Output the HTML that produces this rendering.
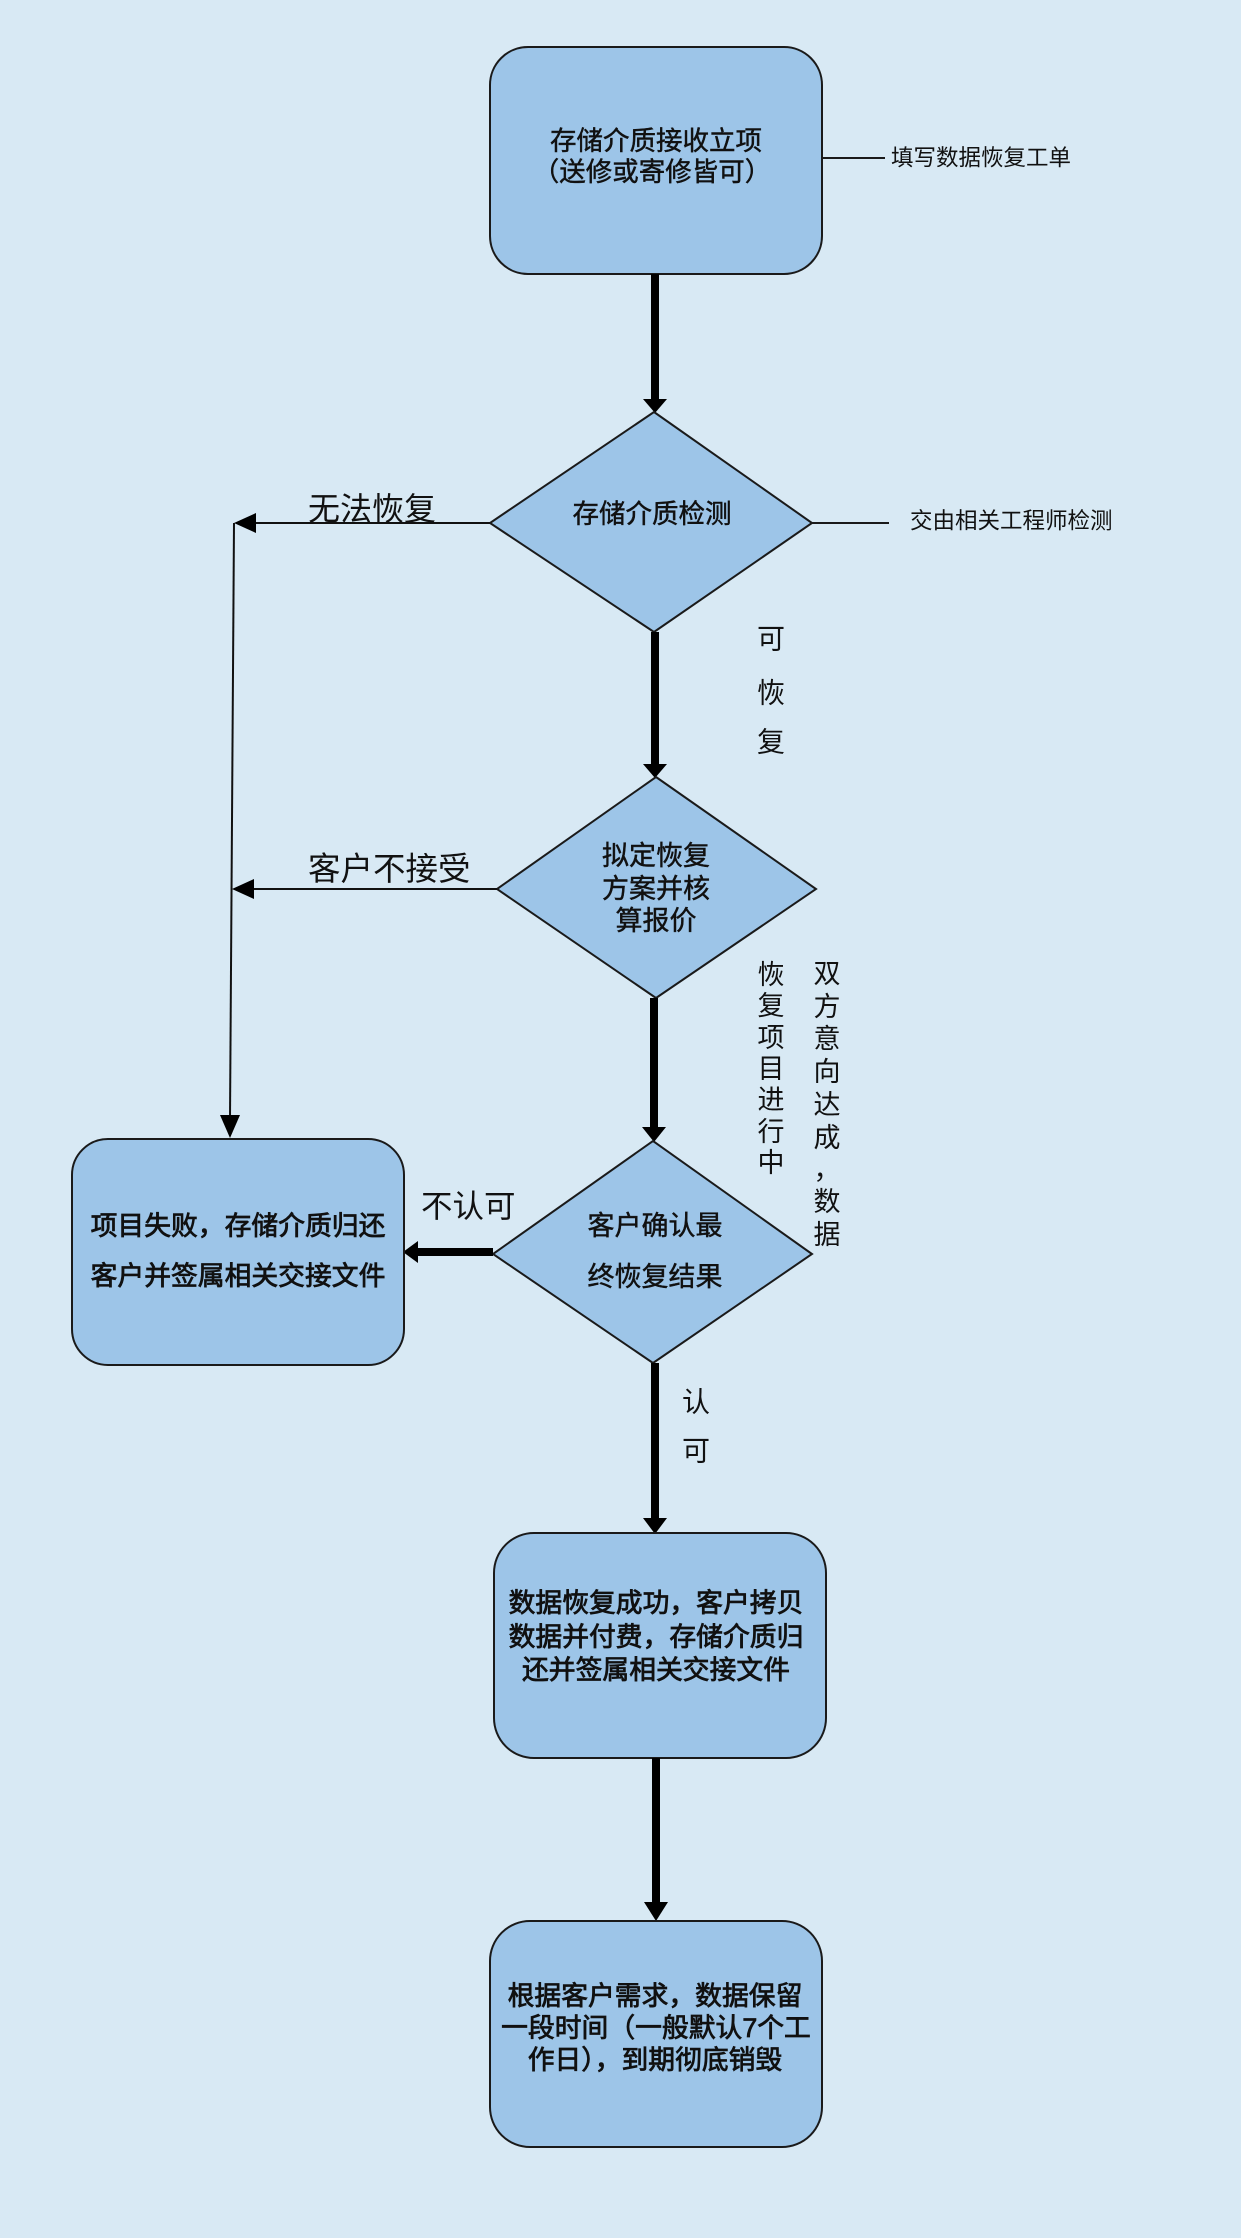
<!DOCTYPE html>
<html>
<head>
<meta charset="utf-8">
<style>
  html, body { margin:0; padding:0; background:#d8e9f4; }
  svg { display:block; }
  .n { font-family: "Liberation Sans", "Noto Sans CJK SC", "WenQuanYi Zen Hei", sans-serif; fill:#111; stroke:#111; stroke-width:0.45px; }
  .b { font-family: "Liberation Sans", "Noto Sans CJK SC", "WenQuanYi Zen Hei", sans-serif; fill:#111; stroke:#111; stroke-width:0.8px; }
  .l { font-family: "Liberation Sans", "Noto Sans CJK SC", sans-serif; fill:#111; }
</style>
</head>
<body>
<svg width="1241" height="2238" viewBox="0 0 1241 2238" xmlns="http://www.w3.org/2000/svg">
  <rect x="0" y="0" width="1241" height="2238" fill="#d8e9f4"/>

  <!-- Box 1 -->
  <rect x="490" y="47" width="332" height="227" rx="38" ry="38" fill="#9dc5e8" stroke="#1a1a1a" stroke-width="2"/>
  <text class="n" x="656" y="141" font-size="26.5" text-anchor="middle" dominant-baseline="central">存储介质接收立项</text>
  <text class="n" x="652" y="172" font-size="26.5" text-anchor="middle" dominant-baseline="central">（送修或寄修皆可）</text>
  <line x1="822" y1="158" x2="885" y2="158" stroke="#1a1a1a" stroke-width="2"/>
  <text class="l" x="891" y="158" font-size="22.5" dominant-baseline="central">填写数据恢复工单</text>

  <!-- Arrow 1 -->
  <line x1="655" y1="274" x2="655" y2="402" stroke="#000" stroke-width="8"/>
  <polygon points="643,399 667,399 655,413" fill="#000"/>

  <!-- Diamond 1 -->
  <polygon points="654,412 812,523 654,632 490,523" fill="#9dc5e8" stroke="#1a1a1a" stroke-width="2"/>
  <text class="n" x="652" y="514" font-size="26.5" text-anchor="middle" dominant-baseline="central">存储介质检测</text>
  <line x1="812" y1="523" x2="889" y2="523" stroke="#1a1a1a" stroke-width="2"/>
  <text class="l" x="910" y="521" font-size="22.5" dominant-baseline="central">交由相关工程师检测</text>

  <!-- 无法恢复 -->
  <line x1="490" y1="523" x2="252" y2="523" stroke="#111" stroke-width="2"/>
  <polygon points="234,523 256,513 256,533" fill="#000"/>
  <text class="l" x="308" y="509" font-size="32" dominant-baseline="central">无法恢复</text>
  <line x1="234" y1="523" x2="230" y2="1118" stroke="#111" stroke-width="2"/>
  <polygon points="230,1138 220,1115 240,1115" fill="#000"/>

  <!-- Arrow 2 -->
  <line x1="655" y1="632" x2="655" y2="767" stroke="#000" stroke-width="8"/>
  <polygon points="643,764 667,764 655,778" fill="#000"/>
  <text class="l" x="771" y="639" font-size="28" text-anchor="middle" dominant-baseline="central">可</text>
  <text class="l" x="771" y="693" font-size="28" text-anchor="middle" dominant-baseline="central">恢</text>
  <text class="l" x="771" y="742" font-size="28" text-anchor="middle" dominant-baseline="central">复</text>

  <!-- Diamond 2 -->
  <polygon points="656,777 816,889 656,998 497,889" fill="#9dc5e8" stroke="#1a1a1a" stroke-width="2"/>
  <text class="n" x="656" y="856" font-size="27" text-anchor="middle" dominant-baseline="central">拟定恢复</text>
  <text class="n" x="656" y="889" font-size="27" text-anchor="middle" dominant-baseline="central">方案并核</text>
  <text class="n" x="656" y="921" font-size="27" text-anchor="middle" dominant-baseline="central">算报价</text>

  <!-- 客户不接受 -->
  <line x1="497" y1="889" x2="250" y2="889" stroke="#111" stroke-width="2"/>
  <polygon points="232,889 254,879 254,899" fill="#000"/>
  <text class="l" x="308" y="869" font-size="32.5" dominant-baseline="central">客户不接受</text>

  <!-- Arrow 3 -->
  <line x1="654" y1="998" x2="654" y2="1130" stroke="#000" stroke-width="8"/>
  <polygon points="642,1127 666,1127 654,1142" fill="#000"/>

  <!-- vertical labels -->
  <g class="l" font-size="27" text-anchor="middle">
    <text x="771" y="975" dominant-baseline="central">恢</text>
    <text x="771" y="1006" dominant-baseline="central">复</text>
    <text x="771" y="1038" dominant-baseline="central">项</text>
    <text x="771" y="1069" dominant-baseline="central">目</text>
    <text x="771" y="1100" dominant-baseline="central">进</text>
    <text x="771" y="1132" dominant-baseline="central">行</text>
    <text x="771" y="1163" dominant-baseline="central">中</text>
    <text x="827" y="974" dominant-baseline="central">双</text>
    <text x="827" y="1007" dominant-baseline="central">方</text>
    <text x="827" y="1039" dominant-baseline="central">意</text>
    <text x="827" y="1072" dominant-baseline="central">向</text>
    <text x="827" y="1105" dominant-baseline="central">达</text>
    <text x="827" y="1138" dominant-baseline="central">成</text>
    <text x="827" y="1170" dominant-baseline="central">，</text>
    <text x="827" y="1202" dominant-baseline="central">数</text>
    <text x="827" y="1235" dominant-baseline="central">据</text>
  </g>

  <!-- Diamond 3 -->
  <polygon points="653,1141 812,1254 653,1363 493,1254" fill="#9dc5e8" stroke="#1a1a1a" stroke-width="2"/>
  <text class="n" x="655" y="1226" font-size="27" text-anchor="middle" dominant-baseline="central">客户确认最</text>
  <text class="n" x="655" y="1277" font-size="27" text-anchor="middle" dominant-baseline="central">终恢复结果</text>

  <!-- 不认可 -->
  <line x1="493" y1="1252" x2="414" y2="1252" stroke="#000" stroke-width="8"/>
  <polygon points="403,1252 418,1241 418,1263" fill="#000"/>
  <text class="l" x="421" y="1206" font-size="31.5" dominant-baseline="central">不认可</text>

  <!-- Fail box -->
  <rect x="72" y="1139" width="332" height="226" rx="36" ry="36" fill="#9dc5e8" stroke="#1a1a1a" stroke-width="2"/>
  <text class="b" x="238" y="1226" font-size="26.8" text-anchor="middle" dominant-baseline="central">项目失败，存储介质归还</text>
  <text class="b" x="238" y="1276" font-size="26.8" text-anchor="middle" dominant-baseline="central">客户并签属相关交接文件</text>

  <!-- 认可 -->
  <text class="l" x="696" y="1402" font-size="28" text-anchor="middle" dominant-baseline="central">认</text>
  <text class="l" x="696" y="1451" font-size="28" text-anchor="middle" dominant-baseline="central">可</text>

  <!-- Arrow 4 -->
  <line x1="655" y1="1363" x2="655" y2="1522" stroke="#000" stroke-width="8"/>
  <polygon points="643,1518 667,1518 655,1534" fill="#000"/>

  <!-- Box 5 -->
  <rect x="494" y="1533" width="332" height="225" rx="40" ry="40" fill="#9dc5e8" stroke="#1a1a1a" stroke-width="2"/>
  <text class="b" x="656" y="1603" font-size="26.8" text-anchor="middle" dominant-baseline="central">数据恢复成功，客户拷贝</text>
  <text class="b" x="656" y="1637" font-size="26.8" text-anchor="middle" dominant-baseline="central">数据并付费，存储介质归</text>
  <text class="b" x="656" y="1670" font-size="26.8" text-anchor="middle" dominant-baseline="central">还并签属相关交接文件</text>

  <!-- Arrow 5 -->
  <line x1="656" y1="1758" x2="656" y2="1906" stroke="#000" stroke-width="8"/>
  <polygon points="644,1902 668,1902 656,1921" fill="#000"/>

  <!-- Box 6 -->
  <rect x="490" y="1921" width="332" height="226" rx="40" ry="40" fill="#9dc5e8" stroke="#1a1a1a" stroke-width="2"/>
  <text class="b" x="655" y="1996" font-size="26.8" text-anchor="middle" dominant-baseline="central">根据客户需求，数据保留</text>
  <text class="b" x="656" y="2028" font-size="26.8" text-anchor="middle" dominant-baseline="central">一段时间（一般默认7个工</text>
  <text class="b" x="655" y="2060" font-size="26.8" text-anchor="middle" dominant-baseline="central">作日），到期彻底销毁</text>
</svg>
</body>
</html>
